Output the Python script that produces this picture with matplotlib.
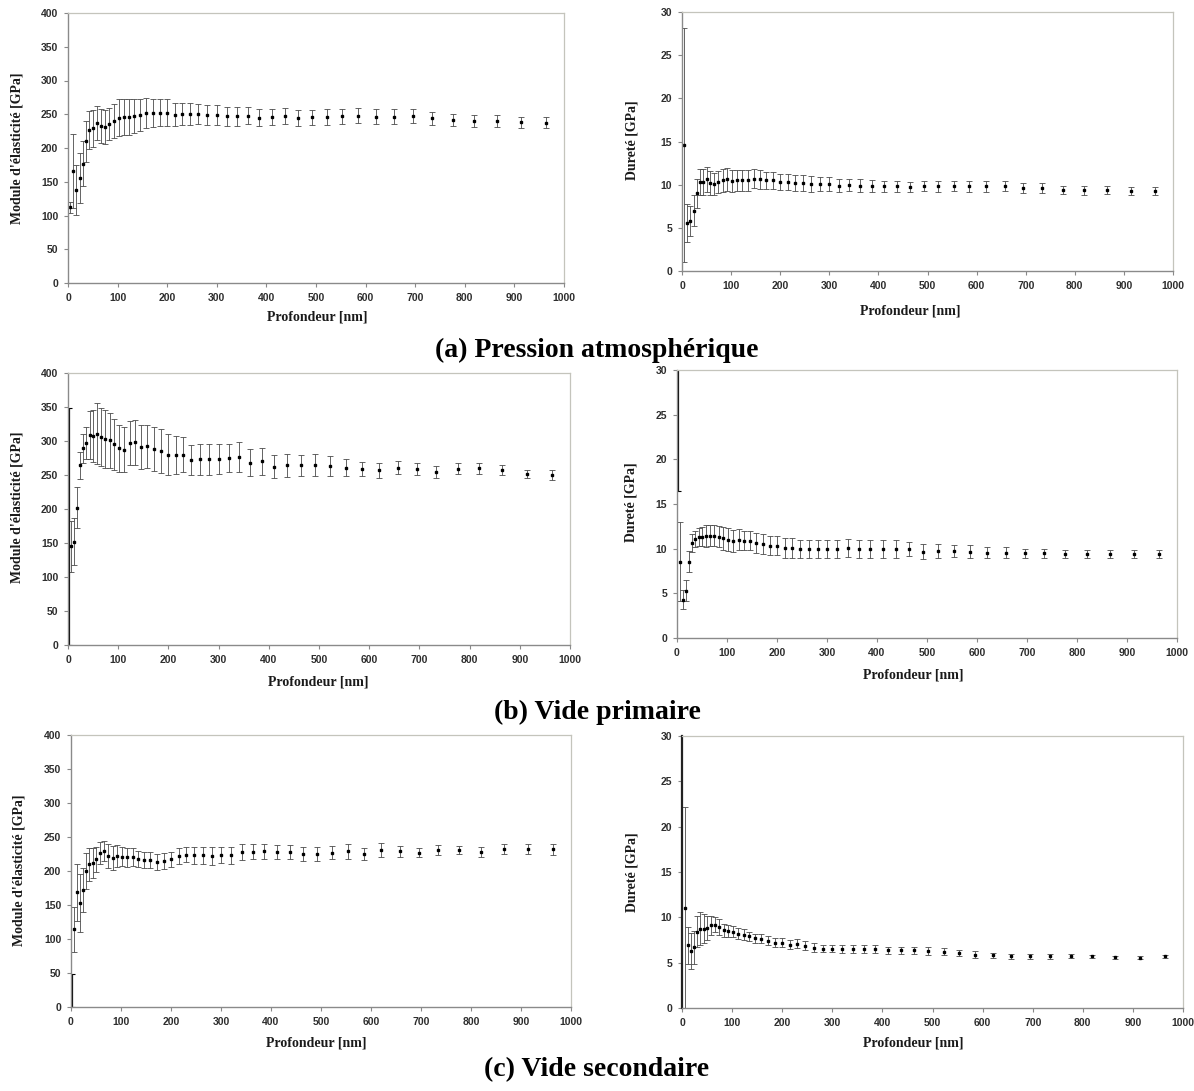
import matplotlib
matplotlib.use("Agg")
import matplotlib.pyplot as plt
import numpy as np

# ---------------- data ----------------
depth = [5, 11, 17, 24, 30, 36, 43, 50, 58, 66, 74, 83, 92, 102, 112, 123, 134, 146,
         158, 171, 185, 200, 215, 230, 246, 263, 281, 300, 320, 341, 363, 386, 411,
         437, 464, 492, 522, 553, 585, 620, 657, 695, 734, 776, 819, 865, 914, 964]

# (a) Pression atmospherique
mod_a = [112, 166, 138, 156, 177, 210, 227, 229, 237, 233, 231, 236, 240, 245, 246, 246,
         247, 249, 252, 252, 252, 252, 249, 250, 250, 250, 249, 249, 247, 247, 248, 245,
         246, 248, 245, 245.5, 246.5, 247, 248, 246.5, 246.5, 247.5, 244, 241.5, 240.5,
         240.5, 238, 237.5]
mod_a_err = [8, 55, 37, 37, 34, 30, 28, 28, 25, 25, 25, 24, 25, 27, 27, 26, 25, 24, 22, 21,
             20, 20, 17, 16, 16, 15, 15, 15, 14, 14, 13, 13, 12, 12, 12, 11, 12, 11, 11,
             11, 11, 10, 10, 9, 9, 9, 8, 8]
dur_a = [14.6, 5.6, 5.8, 7.0, 9.0, 10.3, 10.3, 10.6, 10.2, 10.1, 10.3, 10.5, 10.6, 10.4,
         10.5, 10.5, 10.5, 10.7, 10.6, 10.5, 10.5, 10.3, 10.3, 10.2, 10.2, 10.1, 10.1,
         10.1, 9.9, 10.0, 9.9, 9.8, 9.8, 9.8, 9.75, 9.85, 9.8, 9.85, 9.8, 9.8, 9.85, 9.6,
         9.6, 9.4, 9.35, 9.35, 9.3, 9.3]
dur_a_err = [13.5, 2.2, 1.7, 1.8, 1.7, 1.5, 1.5, 1.4, 1.4, 1.3, 1.3, 1.3, 1.3, 1.3, 1.2,
             1.2, 1.2, 1.1, 1.1, 1.0, 1.0, 0.9, 0.9, 0.9, 0.9, 0.9, 0.8, 0.8, 0.7, 0.7,
             0.7, 0.7, 0.6, 0.6, 0.6, 0.6, 0.6, 0.6, 0.6, 0.6, 0.6, 0.6, 0.55, 0.5, 0.5,
             0.45, 0.45, 0.45]

# (b) Vide primaire
mod_b = [145, 152, 202, 264, 289, 297, 309, 307, 311, 306, 303, 301, 295, 289, 287, 297,
         298, 291, 292, 288, 285, 280, 280, 280, 272, 273, 273, 274, 275, 277, 268, 270,
         262, 264, 264, 265, 263, 261, 259, 257, 261, 259, 254, 259, 260, 257, 252, 250]
mod_b_err = [37, 35, 30, 20, 21, 24, 35, 38, 45, 43, 43, 40, 38, 35, 33, 33, 33, 32, 32,
             32, 32, 30, 28, 26, 22, 23, 23, 22, 21, 22, 20, 20, 17, 17, 16, 16, 15, 13,
             10, 11, 10, 9, 9, 8, 8, 7, 6, 7]
dur_b = [8.55, 4.3, 5.3, 8.55, 10.6, 11.05, 11.35, 11.35, 11.4, 11.45, 11.45, 11.35,
         11.15, 11.0, 10.85, 11.0, 10.9, 10.9, 10.6, 10.5, 10.35, 10.35, 10.1, 10.1,
         10.0, 10.0, 9.95, 9.95, 10.0, 10.1, 9.95, 10.0, 9.95, 9.95, 9.93, 9.67, 9.75,
         9.75, 9.67, 9.56, 9.56, 9.49, 9.49, 9.38, 9.41, 9.38, 9.41, 9.41]
dur_b_err = [4.4, 1.1, 1.2, 1.2, 1.0, 0.9, 1.0, 1.1, 1.2, 1.2, 1.2, 1.2, 1.3, 1.3, 1.2,
             1.2, 1.1, 1.1, 1.1, 1.1, 1.1, 1.1, 1.1, 1.1, 1.0, 1.0, 1.0, 1.0, 1.0, 1.0,
             1.0, 1.0, 1.0, 1.0, 0.8, 0.8, 0.8, 0.7, 0.7, 0.6, 0.6, 0.5, 0.5, 0.45, 0.45,
             0.45, 0.45, 0.45]

# (c) Vide secondaire
mod_c = [114, 169, 153, 172, 200, 210, 212, 217, 226, 229, 222, 219, 222, 221, 220, 221,
         217.5, 216, 216, 213.5, 214.5, 217, 222, 224, 223, 223, 222, 224, 223, 228, 228,
         229, 228, 228, 225, 225, 227, 229, 225, 231, 229, 227, 231, 231, 228, 232, 232,
         232]
mod_c_err = [33, 42, 42, 32, 26, 24, 22, 18, 16, 15, 17, 18, 16, 14, 14, 13, 12, 12, 12,
             12, 12, 11, 12, 11, 12, 12, 13, 12, 12, 12, 11, 11, 10, 10, 10, 10, 10, 11,
             9, 10, 8, 7, 7, 6, 7, 7, 7, 8]
dur_c = [11.07, 6.9, 6.3, 6.7, 8.4, 8.75, 8.75, 8.85, 9.1, 9.2, 8.9, 8.55, 8.5, 8.4, 8.2,
         8.1, 7.9, 7.7, 7.65, 7.4, 7.2, 7.2, 7.0, 7.1, 6.85, 6.65, 6.55, 6.55, 6.5, 6.5,
         6.5, 6.5, 6.35, 6.35, 6.35, 6.3, 6.2, 6.05, 5.9, 5.8, 5.7, 5.7, 5.7, 5.75, 5.7,
         5.6, 5.55, 5.7]
dur_c_err = [11.1, 2.0, 2.0, 1.8, 1.7, 1.8, 1.6, 1.3, 1.0, 0.8, 0.9, 0.7, 0.7, 0.6, 0.6,
             0.6, 0.5, 0.5, 0.5, 0.5, 0.5, 0.5, 0.5, 0.5, 0.5, 0.5, 0.4, 0.4, 0.4, 0.4,
             0.4, 0.4, 0.4, 0.4, 0.4, 0.4, 0.4, 0.35, 0.35, 0.3, 0.3, 0.25, 0.25, 0.2,
             0.2, 0.15, 0.15, 0.15]

# error bars of the shallowest indent drawn on the axis (no visible marker)
edge_depth = [1]
mod_b_edge, mod_b_edge_err = [174], [174]
dur_b_edge, dur_b_edge_err = [33], [16.5]
mod_c_edge, mod_c_edge_err = [24.5], [24.5]

captions = ["(a) Pression atmosphérique", "(b) Vide primaire", "(c) Vide secondaire"]
xlabel = "Profondeur [nm]"
ylabel_mod = "Module d'élasticité [GPa]"
ylabel_dur = "Dureté [GPa]"

# ---------------- figure ----------------
W, H = 1194, 1091
fig = plt.figure(figsize=(W / 100, H / 100), dpi=100)
fig.patch.set_facecolor("white")

SERIF = ["Liberation Serif", "DejaVu Serif"]
SANS = ["Liberation Sans", "DejaVu Sans"]


def rect(x0, y0, x1, y1):
    return [x0 / W, 1 - y1 / H, (x1 - x0) / W, (y1 - y0) / H]


def make_panel(box, ymax, ystep, y, yerr, ylab, xlab_px, ylab_px,
               edge=None, dark_left=False):
    ax = fig.add_axes(rect(*box))
    ax.errorbar(depth, y, yerr=yerr, fmt="s", ms=2.1, mfc="black", mec="black",
                ecolor="#4a4a4a", elinewidth=0.6, capsize=2.0, capthick=0.6)
    if edge is not None:
        ax.errorbar(edge_depth, edge[0], yerr=edge[1], fmt="none", ecolor="black",
                    elinewidth=1.6, capsize=2.5, capthick=0.8, clip_on=True)
    ax.set_xlim(0, 1000)
    ax.set_ylim(0, ymax)
    ax.set_xticks(np.arange(0, 1001, 100))
    ax.set_yticks(np.arange(0, ymax + 0.001, ystep))
    ax.tick_params(direction="out", length=3, width=0.8, color="#888888",
                   labelsize=7.5, labelcolor="#2e2e2e", pad=4)
    for lab in ax.get_xticklabels() + ax.get_yticklabels():
        lab.set_family(SANS)
        lab.set_fontweight("bold")
    for s in ("top", "right"):
        ax.spines[s].set_color("#c4c4bc")
        ax.spines[s].set_linewidth(0.9)
    ax.spines["bottom"].set_color("#8a8a8a")
    ax.spines["left"].set_color("#222222" if dark_left else "#8a8a8a")
    ax.spines["left"].set_linewidth(1.6 if dark_left else 1.0)
    ax.spines["bottom"].set_linewidth(1.0)
    fig.text(xlab_px[0] / W, 1 - xlab_px[1] / H, xlabel, ha="center", va="center",
             family=SERIF, fontweight="bold", fontsize=10, color="#1a1a1a")
    fig.text(ylab_px[0] / W, 1 - ylab_px[1] / H, ylab, ha="center", va="center",
             rotation=90, family=SERIF, fontweight="bold", fontsize=10,
             color="#1a1a1a")
    return ax


# row (a)
make_panel((68, 13, 564, 283), 400, 50, mod_a, mod_a_err, ylabel_mod,
           (317, 317), (17, 148))
make_panel((682, 12, 1173, 271), 30, 5, dur_a, dur_a_err, ylabel_dur,
           (910, 311), (632, 140))
# row (b)
make_panel((68, 373, 570, 645), 400, 50, mod_b, mod_b_err, ylabel_mod,
           (318, 682), (17, 507), edge=(mod_b_edge, mod_b_edge_err))
make_panel((677, 370, 1177, 638), 30, 5, dur_b, dur_b_err, ylabel_dur,
           (913, 675), (631, 502), edge=(dur_b_edge, dur_b_edge_err))
# row (c)
make_panel((71, 735, 571, 1007), 400, 50, mod_c, mod_c_err, ylabel_mod,
           (316, 1043), (19, 870), edge=(mod_c_edge, mod_c_edge_err))
make_panel((682, 736, 1183, 1008), 30, 5, dur_c, dur_c_err, ylabel_dur,
           (913, 1043), (632, 872), dark_left=True)

# captions
for cap, ypx in zip(captions, [350, 712, 1070]):
    fig.text(597 / W, 1 - ypx / H, cap, ha="center", va="center", family=SERIF,
             fontweight="bold", fontsize=20, color="black")

fig.savefig("out.png", dpi=100, facecolor="white")
